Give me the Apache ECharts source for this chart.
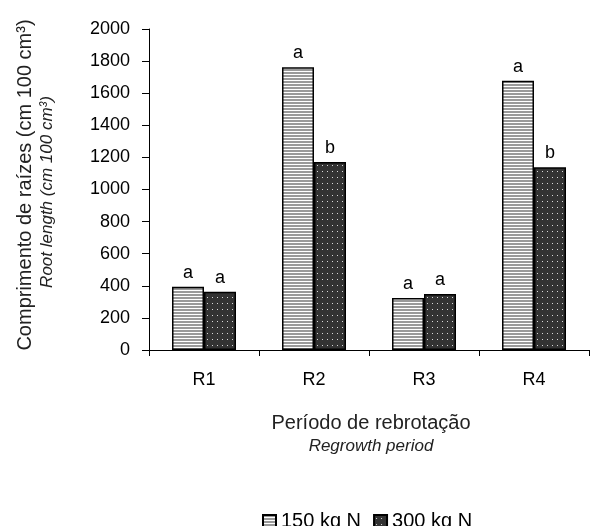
<!DOCTYPE html>
<html>
<head>
<meta charset="utf-8">
<script src="https://cdn.jsdelivr.net/npm/echarts@6/dist/echarts.min.js"></script>
<style>
html,body{margin:0;padding:0;background:#fff;}
#chart{width:590px;height:526px;}
</style>
</head>
<body>
<div id="chart"></div>
<script>
// ---- data ----
var categories = ['R1', 'R2', 'R3', 'R4'];
var seriesNames = ['150 kg N', '300 kg N'];
var values150 = [394, 1761, 324, 1678];
var values300 = [363, 1171, 349, 1138];
var letters150 = ['a', 'a', 'a', 'a'];
var letters300 = ['a', 'b', 'a', 'b'];
var yTicks = [0, 200, 400, 600, 800, 1000, 1200, 1400, 1600, 1800, 2000];

// ---- patterns ----
function stripePattern() {
  var c = document.createElement('canvas');
  c.width = 4; c.height = 3;
  var ctx = c.getContext('2d');
  ctx.fillStyle = '#ffffff';
  ctx.fillRect(0, 0, 4, 3);
  ctx.fillStyle = '#9a9a9a';
  ctx.fillRect(0, 0, 4, 2);
  return c;
}
function dotPattern() {
  var c = document.createElement('canvas');
  c.width = 5; c.height = 6;
  var ctx = c.getContext('2d');
  ctx.fillStyle = '#333333';
  ctx.fillRect(0, 0, 5, 6);
  ctx.fillStyle = '#d8d8d8';
  ctx.fillRect(2, 3, 1, 1);
  return c;
}

var chart = echarts.init(document.getElementById('chart'), null, {renderer: 'canvas'});
var font = 'Liberation Sans, Arial, sans-serif';

function labelFor(arr) {
  return {
    show: true, position: 'top', distance: 5,
    fontFamily: font, fontSize: 18, color: '#000',
    formatter: function (p) { return arr[p.dataIndex]; }
  };
}

chart.setOption({
  animation: false,
  backgroundColor: '#fff',
  textStyle: {fontFamily: font},
  grid: {left: 149, right: 1, top: 29, bottom: 176, containLabel: false},
  xAxis: {
    type: 'category',
    data: categories,
    axisLine: {lineStyle: {color: '#000', width: 1}},
    axisTick: {show: true, length: 6, lineStyle: {color: '#000'}},
    axisLabel: {fontFamily: font, fontSize: 18, color: '#000', margin: 21}
  },
  yAxis: {
    type: 'value',
    min: yTicks[0], max: yTicks[yTicks.length - 1], interval: yTicks[1] - yTicks[0],
    axisLine: {show: true, lineStyle: {color: '#000', width: 1}},
    axisTick: {show: true, length: 7, lineStyle: {color: '#000'}},
    splitLine: {show: false},
    axisLabel: {fontFamily: font, fontSize: 18, color: '#000', margin: 19,
      formatter: function (v) { return String(v); }}
  },
  legend: {
    data: seriesNames,
    left: 257, top: 506,
    itemWidth: 13, itemHeight: 12, itemGap: 12,
    icon: 'rect',
    textStyle: {fontFamily: font, fontSize: 20, color: '#000'}
  },
  graphic: [
    {type: 'text', x: 25, y: 185, rotation: Math.PI / 2,
      style: {text: 'Comprimento de raízes (cm 100 cm³)', font: '20px ' + font, fill: '#222',
        align: 'center', verticalAlign: 'middle'}},
    {type: 'text', x: 47, y: 192, rotation: Math.PI / 2,
      style: {text: 'Root length (cm 100 cm³)', font: 'italic 17px ' + font, fill: '#222',
        align: 'center', verticalAlign: 'middle'}},
    {type: 'text', x: 371, y: 423,
      style: {text: 'Período de rebrotação', font: '20px ' + font, fill: '#222',
        align: 'center', verticalAlign: 'middle'}},
    {type: 'text', x: 371, y: 446,
      style: {text: 'Regrowth period', font: 'italic 17px ' + font, fill: '#222',
        align: 'center', verticalAlign: 'middle'}}
  ],
  series: [
    {
      name: seriesNames[0], type: 'bar', data: values150,
      barWidth: 32, barGap: '0%',
      itemStyle: {color: {image: stripePattern(), repeat: 'repeat'}, borderColor: '#000', borderWidth: 1.5},
      label: labelFor(letters150)
    },
    {
      name: seriesNames[1], type: 'bar', data: values300,
      barWidth: 32, barGap: '0%',
      itemStyle: {color: {image: dotPattern(), repeat: 'repeat'}, borderColor: '#000', borderWidth: 1.5},
      label: labelFor(letters300)
    }
  ]
});
</script>
</body>
</html>
